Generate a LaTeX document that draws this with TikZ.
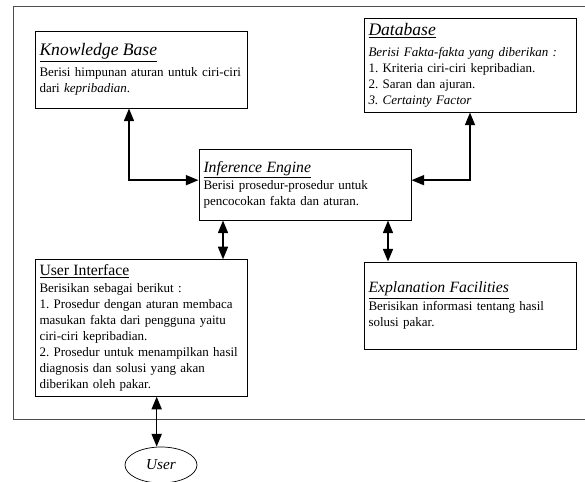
\documentclass[tikz,border=0pt]{standalone}
\usepackage{fontspec}
\setmainfont{Liberation Serif}
\usepackage{tikz}
\usetikzlibrary{shapes.geometric, arrows.meta, positioning}
\definecolor{bingkai}{HTML}{4D4D4D}
\frenchspacing

\tikzset{
  kotak/.style={draw=black, line width=0.8pt, fill=white, minimum width=6.36cm, text width=6.09cm, inner sep=0.135cm, align=left, font=\fontsize{11.1}{13.7}\selectfont},
  panah/.style={line width=1.4pt, {Triangle[length=3.8mm,width=3mm]}-{Triangle[length=3.8mm,width=3mm]}}
}
\newcommand{\judul}[2][13.4]{{\fontsize{#1}{16}\selectfont\underline{#2}}\\[\dimexpr 2\dimexpr #1pt\relax - 25.8pt\relax]}

\begin{document}
\begin{tikzpicture}
    \useasboundingbox (0,0) rectangle (17.55,-14.43);
    % bingkai sistem
    \draw[bingkai, line width=0.7pt] (18,-0.18) -- (0.39,-0.18) -- (0.39,-12.57) -- (18,-12.57);

    \node[kotak, minimum height=2.31cm] (kb) at (4.23,-2.085) {
        \judul[15]{\textit{Knowledge Base}}Berisi himpunan aturan untuk ciri-ciri\\
        dari \textit{kepribadian}.
    };
    \node[kotak, minimum height=2.55cm] (db) at (14.1,-1.965) {
        \judul[15]{\textit{Database}}\textit{Berisi Fakta-fakta yang diberikan :}\\
        1. Kriteria ciri-ciri kepribadian.\\
        2. Saran dan ajuran.\\
        \textit{3. Certainty Factor}
    };
    \node[kotak, minimum height=2.13cm] (ie) at (9.15,-5.535) {
        \judul{\textit{Inference Engine}}Berisi prosedur-prosedur untuk\\
        pencocokan fakta dan aturan.
    };
    \node[kotak, minimum height=3.96cm] (ui) at (4.23,-9.84) {
        \judul{User Interface}Berisikan sebagai berikut :\\
        1. Prosedur dengan aturan membaca\\
        masukan fakta dari pengguna yaitu\\
        ciri-ciri kepribadian.\\
        2. Prosedur untuk menampilkan hasil\\
        diagnosis dan solusi yang akan\\
        diberikan oleh pakar.
    };
    \node[kotak, minimum height=2.61cm] (ef) at (14.1,-9.165) {
        \judul{\textit{Explanation Facilities}}Berisikan informasi tentang hasil\\
        solusi pakar.
    };
    \node[draw, ellipse, line width=0.6pt, minimum width=2.16cm, minimum height=1.08cm, font=\fontsize{13}{15}\selectfont\itshape] (user) at (4.83,-13.95) {User};

    % panah
    \draw[panah] ([xshift=-0.36cm]kb.south) |- ([yshift=0.13cm]ie.west);
    \draw[panah] (db.south) |- ([yshift=0.13cm]ie.east);
    \draw[panah] ([xshift=-2.46cm]ie.south) -- ([xshift=-2.46cm]ie.south |- ui.north);
    \draw[panah] ([xshift=2.49cm]ie.south) -- ([xshift=2.49cm]ie.south |- ef.north);
    \draw[panah] ([xshift=-0.13cm]user.north |- ui.south) -- ([xshift=-0.13cm]user.north);
\end{tikzpicture}
\end{document}
